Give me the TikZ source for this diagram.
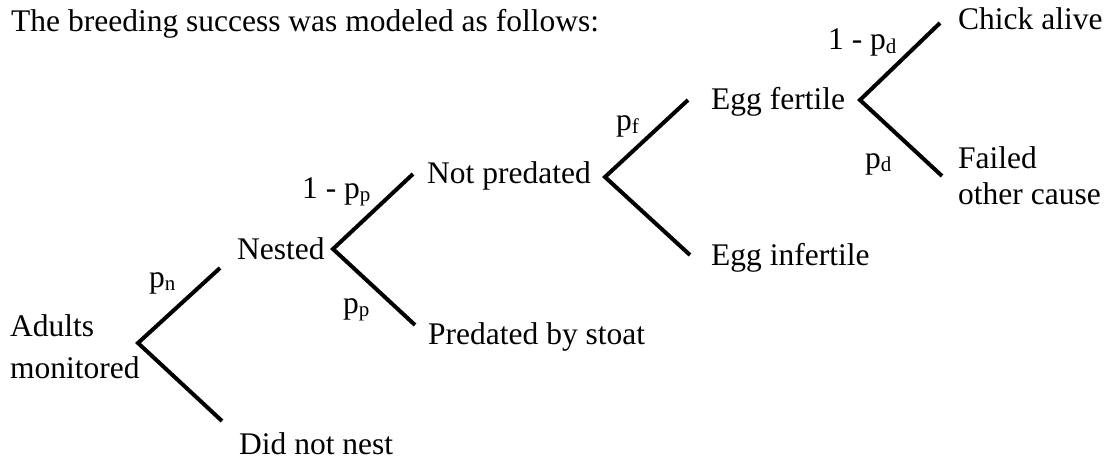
\documentclass[tikz,border=0pt]{standalone}
\usepackage{fontspec}
\setmainfont{Liberation Serif}
\newcommand{\sbs}[1]{\raisebox{-0.1em}{\fontsize{21}{21}\selectfont #1}}
\begin{document}
\begin{tikzpicture}[x=1pt,y=-1pt,
  txt/.style={anchor=base west, inner sep=0pt, font=\fontsize{31.5}{37}\selectfont},
  br/.style={line width=4pt, line join=miter, line cap=butt}]
\useasboundingbox (0,0) rectangle (1109,460);
% title
\node[txt] (title) at (11,32) {The breeding success was modeled as follows:};
% states
\node[txt] (adults) at (10,336) {Adults};
\node[txt] (monitored) at (10,378) {monitored};
\node[txt] (nested) at (237,259) {Nested};
\node[txt] (didnot) at (239,454) {Did not nest};
\node[txt] (notpred) at (427,183) {Not predated};
\node[txt] (pred) at (428,344) {Predated by stoat};
\node[txt] (fertile) at (711,110) {Egg fertile};
\node[txt] (infertile) at (711,265) {Egg infertile};
\node[txt] (chick) at (958,30) {Chick alive};
\node[txt] (failed) at (958,168) {Failed};
\node[txt] (other) at (958,204) {other cause};
% probability labels
\node[txt] (pn) at (149,287) {p\sbs{n}};
\node[txt] (opp) at (302,198) {1 - p\sbs{p}};
\node[txt] (pp) at (343,313) {p\sbs{p}};
\node[txt] (pf) at (616,130) {p\sbs{f}};
\node[txt] (opd) at (828,50) {1 - p\sbs{d}};
\node[txt] (pd) at (865,168) {p\sbs{d}};
% branch points
\coordinate (v1) at (138,343);
\coordinate (u1) at (220,268);
\coordinate (l1) at (222,421);
\coordinate (v2) at (333,249);
\coordinate (u2) at (413,174);
\coordinate (l2) at (415,325);
\coordinate (v3) at (605,177);
\coordinate (u3) at (688,100);
\coordinate (l3) at (690,255);
\coordinate (v4) at (860,100);
\coordinate (u4) at (940,23);
\coordinate (l4) at (942,176);
\draw[br] (u1) -- (v1) -- (l1);
\draw[br] (u2) -- (v2) -- (l2);
\draw[br] (u3) -- (v3) -- (l3);
\draw[br] (u4) -- (v4) -- (l4);
\end{tikzpicture}
\end{document}
